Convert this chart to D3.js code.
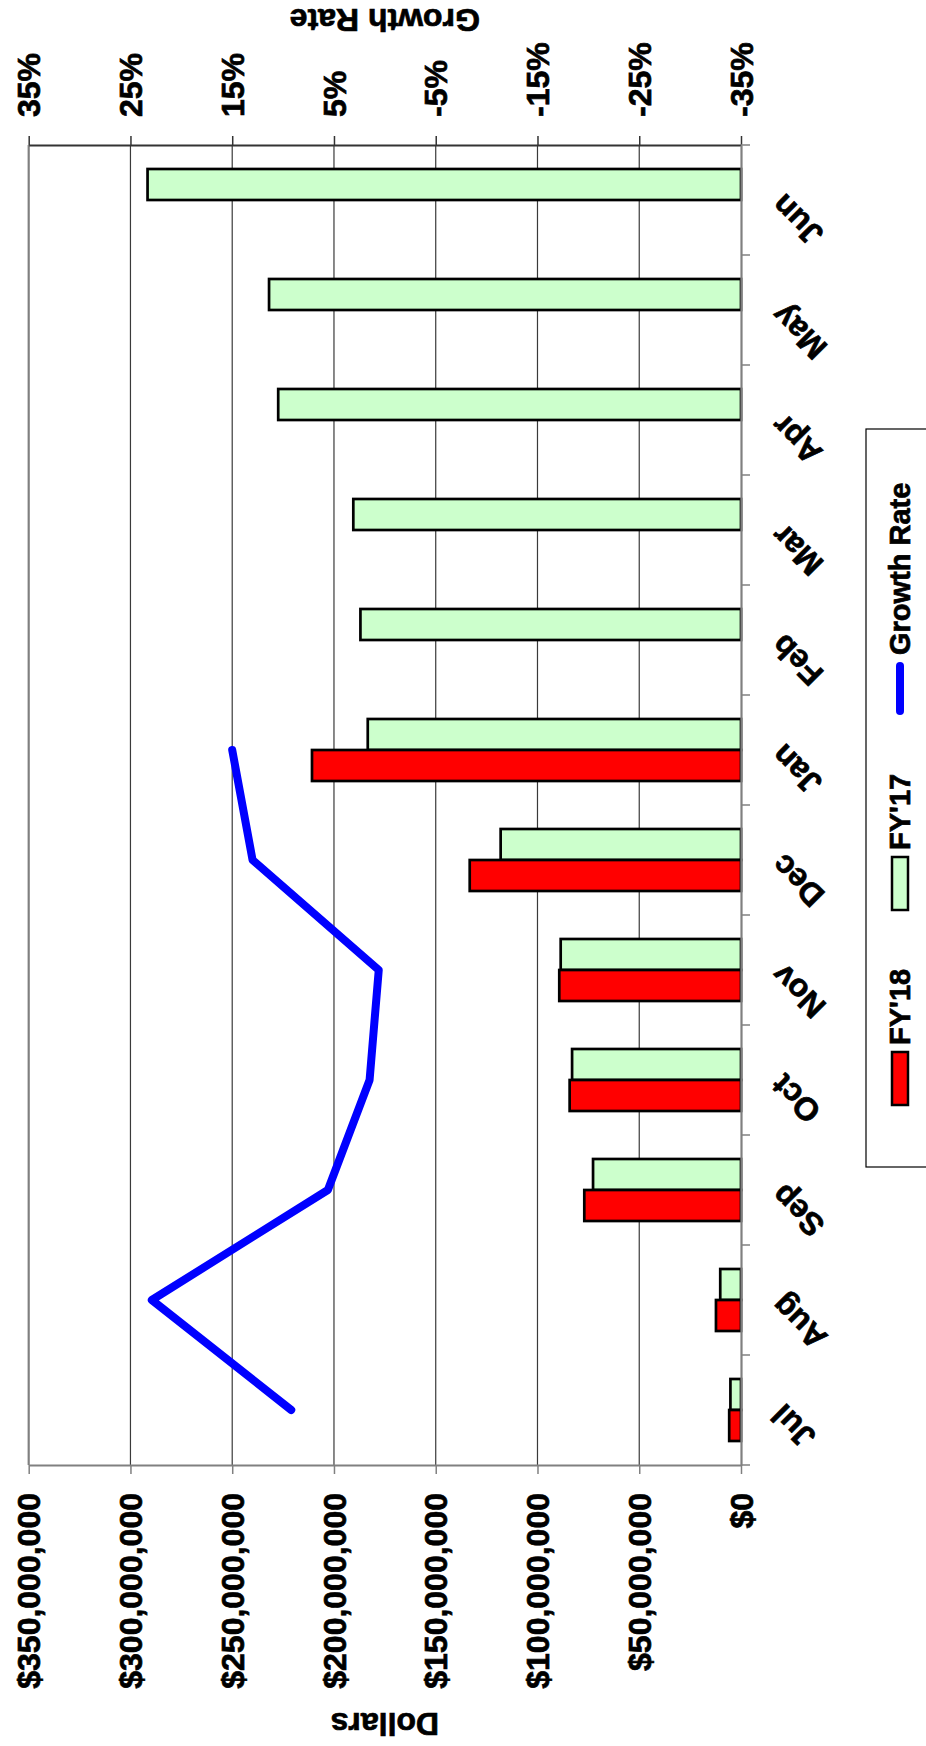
<!DOCTYPE html>
<html>
<head>
<meta charset="utf-8">
<script src="https://cdn.jsdelivr.net/npm/d3@7"></script>
<style>
  body { margin: 0; background: #fff; }
  text { font-family: "Liberation Sans", Arial, sans-serif; font-weight: bold; fill: #000;
         stroke: #000; stroke-width: 0.7px; }
</style>
</head>
<body>
<div id="chart"></div>
<script>
// chart values
const months = ['Jul', 'Aug', 'Sep', 'Oct', 'Nov', 'Dec', 'Jan', 'Feb', 'Mar', 'Apr', 'May', 'Jun']
const fy18 = [5.8e6, 12.3e6, 77.0e6, 84.2e6, 89.3e6, 133.3e6, 210.8e6, null, null, null, null, null]
const fy17 = [5.2e6, 10.2e6, 72.7e6, 83.0e6, 88.6e6, 118.1e6, 183.4e6, 187.0e6, 190.5e6, 227.4e6, 231.9e6, 291.6e6]
const growth = [9.2, 22.9, 5.6, 1.5, 0.6, 13.0, 15.0]
const dollarTicks = [0, 50e6, 100e6, 150e6, 200e6, 250e6, 300e6, 350e6]
const pctTicks = [-35, -25, -15, -5, 5, 15, 25, 35]
const legendLabels = ["FY'18", "FY'17", 'Growth Rate']

let width = 926
let height = 1746
// the chart is drawn turned a quarter turn: months run bottom to top
let plot = { left: 28.7, right: 741, top: 145, bottom: 1465 }

let svg = d3.select('#chart')
  .append('svg')
  .attr('width', width)
  .attr('height', height)

svg.append('rect').attr('width', width).attr('height', height).attr('fill', '#fff')

let x = d3.scaleLinear().domain([0, 350e6]).range([plot.right, plot.left])
let xPct = d3.scaleLinear().domain([-35, 35]).range([plot.right, plot.left])
let y = d3.scaleBand().domain(months).range([plot.bottom, plot.top])
let ySub = d3.scaleBand().domain(['fy17', 'fy18']).range([0, y.bandwidth()])
  .paddingInner(0).paddingOuter(0.774)

// gridlines
svg.append('g')
  .selectAll('line')
  .data(dollarTicks.filter(d => d > 0))
  .enter()
  .append('line')
  .attr('x1', d => x(d)).attr('x2', d => x(d))
  .attr('y1', plot.top).attr('y2', plot.bottom)
  .attr('stroke', d => d === 350e6 ? '#808080' : '#3a3a3a')
  .attr('stroke-width', d => d === 350e6 ? 2.2 : 1.2)

// bars
let series = [
  { key: 'fy17', values: fy17, color: '#CCFFCC' },
  { key: 'fy18', values: fy18, color: '#FF0000' }
]
series.forEach(s => {
  svg.append('g')
    .selectAll('rect')
    .data(months.map((m, i) => ({ m: m, v: s.values[i] })).filter(d => d.v != null))
    .enter()
    .append('rect')
    .attr('x', d => x(d.v))
    .attr('width', d => x(0) - x(d.v))
    .attr('y', d => y(d.m) + ySub(s.key))
    .attr('height', ySub.bandwidth())
    .attr('fill', s.color)
    .attr('stroke', '#000')
    .attr('stroke-width', 2.7)
})

// dollar axis (bottom)
let dollarAxis = svg.append('g')
  .attr('transform', `translate(0, ${plot.bottom})`)
  .call(d3.axisBottom(x).tickValues(dollarTicks).tickSize(9).tickSizeOuter(0)
    .tickFormat(d => '$' + d3.format(',')(d)))
dollarAxis.select('.domain').attr('stroke', '#808080').attr('stroke-width', 2.2)
dollarAxis.selectAll('.tick line').attr('stroke', '#808080').attr('stroke-width', 1.5)
dollarAxis.selectAll('.tick text')
  .attr('x', 0).attr('y', 0).attr('dy', '0.35em')
  .attr('transform', 'translate(0, 28) rotate(-90)')
  .attr('text-anchor', 'end')
  .style('font-size', '32px')

// growth axis (top)
let pctAxis = svg.append('g')
  .attr('transform', `translate(0, ${plot.top})`)
  .call(d3.axisTop(xPct).tickValues(pctTicks).tickSize(9).tickSizeOuter(0)
    .tickFormat(d => d + '%'))
pctAxis.select('.domain').attr('stroke', '#333').attr('stroke-width', 2)
pctAxis.selectAll('.tick line').attr('stroke', '#333').attr('stroke-width', 1.5)
pctAxis.selectAll('.tick text')
  .attr('x', 0).attr('y', 0).attr('dy', '0.35em')
  .attr('transform', 'translate(0, -28) rotate(-90)')
  .attr('text-anchor', 'start')
  .style('font-size', '32px')

// month axis (right side), ticks between the months
let monthAxis = svg.append('g')
  .attr('transform', `translate(${plot.right}, 0)`)
  .call(d3.axisRight(y).tickSize(0).tickSizeOuter(0))
monthAxis.select('.domain').attr('stroke', '#808080').attr('stroke-width', 2.2)
monthAxis.selectAll('.tick text')
  .attr('x', 0).attr('y', 0).attr('dy', '0.35em')
  .attr('transform', 'translate(36, 0) rotate(-135)')
  .attr('text-anchor', 'end')
  .style('font-size', '32px')
monthAxis.append('g')
  .selectAll('line')
  .data(months.map(m => y(m)).concat([plot.bottom]))
  .enter()
  .append('line')
  .attr('x1', 0).attr('x2', 9)
  .attr('y1', d => d).attr('y2', d => d)
  .attr('stroke', '#808080')
  .attr('stroke-width', 1.5)

// growth rate line
let line = d3.line()
  .x(d => xPct(d.v))
  .y(d => y(d.m) + y.bandwidth() / 2)
svg.append('path')
  .datum(growth.map((v, i) => ({ m: months[i], v: v })))
  .attr('d', line)
  .attr('fill', 'none')
  .attr('stroke', '#0000FF')
  .attr('stroke-width', 8)
  .attr('stroke-linejoin', 'round')
  .attr('stroke-linecap', 'round')

// axis titles
svg.append('text')
  .attr('transform', `translate(${(plot.left + plot.right) / 2}, 20) rotate(180)`)
  .attr('text-anchor', 'middle')
  .attr('dy', '0.35em')
  .style('font-size', '32px')
  .text('Growth Rate')
svg.append('text')
  .attr('transform', `translate(${(plot.left + plot.right) / 2}, 1724) rotate(180)`)
  .attr('text-anchor', 'middle')
  .attr('dy', '0.35em')
  .style('font-size', '32px')
  .text('Dollars')

// legend
let legend = svg.append('g')
legend.append('rect')
  .attr('x', 866).attr('y', 429)
  .attr('width', 100).attr('height', 738)
  .attr('fill', '#fff')
  .attr('stroke', '#000')
  .attr('stroke-width', 1.2)

let legendKeys = [
  { label: legendLabels[0], color: '#FF0000', kind: 'bar' },
  { label: legendLabels[1], color: '#CCFFCC', kind: 'bar' },
  { label: legendLabels[2], color: '#0000FF', kind: 'line' }
]
legendKeys.forEach((k, i) => {
  let keyBottom = 1105 - i * 195
  let keyTop = keyBottom - 53
  if (k.kind === 'bar') {
    legend.append('rect')
      .attr('x', 892).attr('y', keyTop)
      .attr('width', 16).attr('height', 53)
      .attr('fill', k.color)
      .attr('stroke', '#000')
      .attr('stroke-width', 2.5)
  } else {
    legend.append('line')
      .attr('x1', 900).attr('x2', 900)
      .attr('y1', keyTop + 4).attr('y2', keyBottom - 4)
      .attr('stroke', k.color)
      .attr('stroke-width', 8)
      .attr('stroke-linecap', 'round')
  }
  legend.append('text')
    .attr('transform', `translate(900, ${keyTop - 7}) rotate(-90)`)
    .attr('dy', '0.35em')
    .style('font-size', '29px')
    .text(k.label)
})
</script>
</body>
</html>
